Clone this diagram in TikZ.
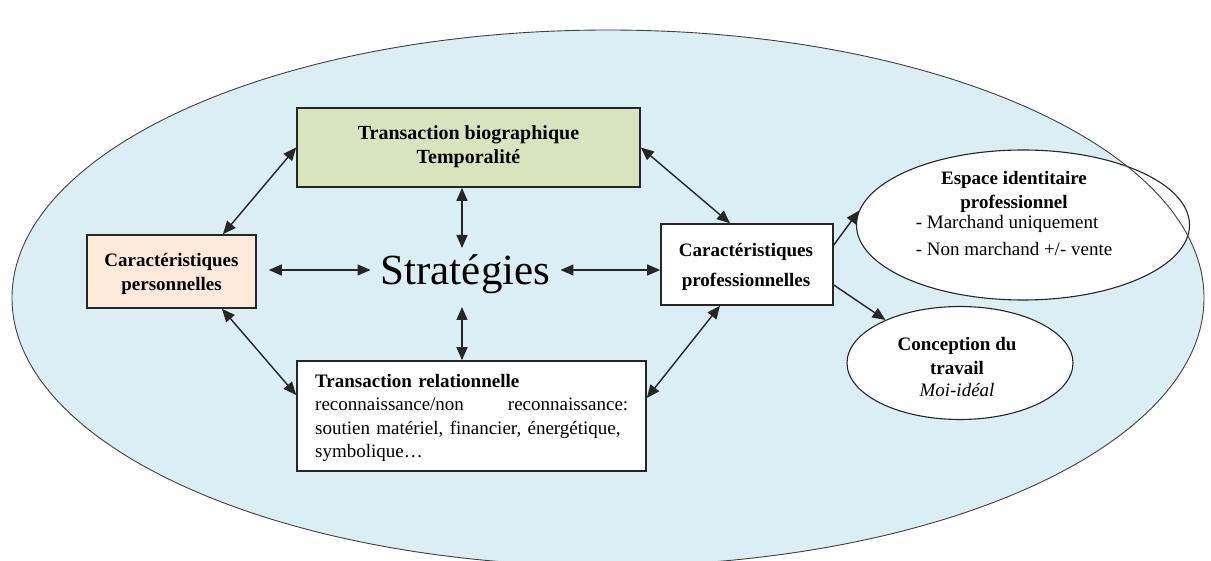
\documentclass[tikz,border=0pt]{standalone}
\usepackage{fontspec}
\setmainfont{Liberation Serif}
\usetikzlibrary{arrows.meta,shapes.geometric,calc}
\definecolor{bgblue}{HTML}{DAEEF3}
\definecolor{boxgreen}{HTML}{D7E4BD}
\definecolor{boxpeach}{HTML}{FDE9D9}
\tikzset{
  >={Triangle[length=13pt,width=11pt]},
  box/.style={draw=black!85, line width=1.6pt, rectangle, inner sep=0pt},
  bt/.style={font=\fontsize{19}{24.5}\selectfont\bfseries, align=center},
  oval/.style={draw=black!85, line width=1.1pt, ellipse, fill=white, inner sep=0pt},
  biarr/.style={<->, line width=1.4pt, draw=black!85},
  onearr/.style={->, line width=1.4pt, draw=black!85}
}
\begin{document}
\begin{tikzpicture}[x=1pt,y=-1pt]
\useasboundingbox (0,0) rectangle (1211,561);
\fill[bgblue] (608,298) ellipse [x radius=596, y radius=268];

% boxes
\node[box, fill=boxgreen, minimum width=343pt, minimum height=79pt] (tb) at (468.5,147.5) {};
\node[bt, font=\fontsize{20}{24}\selectfont\bfseries] (tbt) at (468.5,147) {Transaction biographique\\Temporalité};

\node[box, fill=boxpeach, minimum width=169pt, minimum height=73pt] (lp) at (171.5,271.5) {};
\node[bt] (lpt) at (171.5,274) {Caractéristiques\\personnelles};

\node[box, fill=white, minimum width=172pt, minimum height=81pt] (rp) at (747,264.5) {};
\node[bt, font=\fontsize{19}{30}\selectfont\bfseries] (rpt) at (746,267) {Caractéristiques\\professionnelles};

\node[box, fill=white, minimum width=349pt, minimum height=110pt] (br) at (471.5,416) {};
\node[anchor=north west, inner sep=0pt, text width=313pt, align=left,
      font=\fontsize{19}{23.5}\selectfont] (brt) at (315,374)
  {\textbf{Transaction relationnelle}\\
   \makebox[313pt]{reconnaissance/non\hfill reconnaissance:}\\
   soutien matériel, financier, énergétique,\\
   symbolique…};

% strategies
\node[inner xsep=10pt, inner ysep=0pt, anchor=base, font=\fontsize{43}{50}\selectfont] (str) at (465.5,285) {Stratégies};
\coordinate (strN) at (462,248);
\coordinate (strS) at (462,307);

% ovals
\node[oval, minimum width=333pt, minimum height=150pt] (esp) at (1023,225) {};
\node[align=center, font=\fontsize{19}{24}\selectfont] (espt) at (1014,217)
  {\textbf{Espace identitaire}\\ \textbf{professionnel}\\[-1pt]
   \begin{tabular}{@{}l@{}}- Marchand uniquement\\[3pt] - Non marchand +/- vente\end{tabular}};

\node[oval, minimum width=226pt, minimum height=113pt] (con) at (960,363) {};
\node[align=center, font=\fontsize{19}{24}\selectfont] (cont) at (957,367)
  {\textbf{Conception du}\\ \textbf{travail}\\[-2pt] \textit{Moi-idéal}};

% outline of the big ellipse over everything
\draw[black!75, line width=0.9pt] (608,298) ellipse [x radius=596, y radius=268];

% arrows
\draw[biarr] ([xshift=51.5pt]lp.north) -- (tb.west);
\draw[biarr] (tb.east) -- ([xshift=-17pt]rp.north);
\draw[biarr] ([xshift=50.5pt]lp.south) -- ([yshift=21pt]br.west);
\draw[biarr] ([xshift=-27pt]rp.south) -- ([yshift=18pt]br.east);
\draw[biarr] (strN |- tb.south) -- (strN);
\draw[biarr] (strS) -- (strS |- br.north);
\draw[biarr] ($(lp.east |- 0,270)+(12,0)$) -- ($(str.west |- 0,270)$);
\draw[biarr] ($(str.east |- 0,270)$) -- (rp.west |- 0,270);
\draw[onearr] ([yshift=19.5pt]rp.east) -- (esp.175);
\draw[onearr] ([yshift=-20.5pt]rp.east) -- (con.150);
\end{tikzpicture}
\end{document}
